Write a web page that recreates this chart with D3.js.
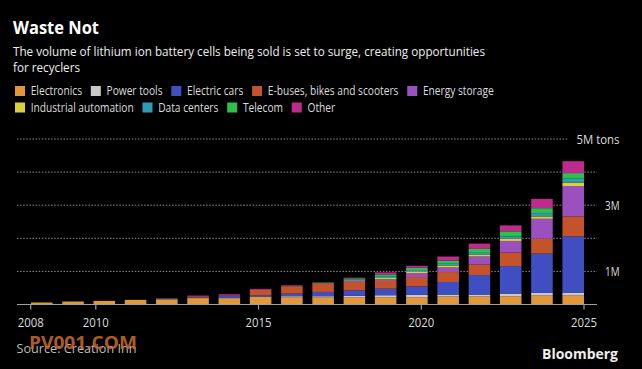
<!DOCTYPE html>
<html>
<head>
<meta charset="utf-8">
<script src="https://cdn.jsdelivr.net/npm/d3@7"></script>
<style>
  html, body { margin: 0; padding: 0; background: #000; }
  svg { display: block; }
  text { font-family: "Open Sans", "Noto Sans", sans-serif; }
</style>
</head>
<body>
<svg id="chart" width="642" height="369"></svg>
<script>
// ---- Data (millions of tons) ----
const years = [2008,2009,2010,2011,2012,2013,2014,2015,2016,2017,2018,2019,2020,2021,2022,2023,2024,2025];
const seriesNames = ["Electronics","Power tools","Electric cars","E-buses, bikes and scooters","Energy storage","Industrial automation","Data centers","Telecom","Other"];
const electronics   = [0.06,0.09,0.11,0.14,0.15,0.19,0.19,0.23,0.22,0.22,0.22,0.22,0.22,0.24,0.24,0.25,0.27,0.27];
const powerTools    = [0,0,0,0,0.01,0.01,0.01,0.01,0.03,0.03,0.04,0.06,0.07,0.06,0.06,0.08,0.08,0.09];
const electricCars  = [0,0,0,0,0.02,0.02,0.06,0.04,0.08,0.13,0.17,0.20,0.26,0.38,0.59,0.83,1.19,1.70];
const eBuses        = [0,0,0,0,0.01,0.03,0.02,0.16,0.22,0.24,0.25,0.23,0.28,0.30,0.32,0.41,0.45,0.60];
const energyStorage = [0,0,0,0,0,0,0,0,0,0.01,0.03,0.05,0.12,0.14,0.24,0.35,0.60,0.92];
const industrial    = [0,0,0,0,0,0,0,0,0,0.01,0.02,0.04,0.05,0.06,0.05,0.07,0.07,0.10];
const dataCenters   = [0,0,0,0,0,0,0,0,0,0,0.02,0.04,0.04,0.05,0.06,0.07,0.10,0.12];
const telecom       = [0,0,0,0,0,0,0,0,0.01,0.02,0.04,0.07,0.07,0.10,0.12,0.15,0.15,0.17];
const other         = [0,0,0,0,0,0.02,0.03,0.03,0.02,0.01,0.02,0.06,0.06,0.12,0.16,0.18,0.28,0.36];
const xTickYears = [2008,2010,2015,2020,2025];
const yTickValues = [1,3,5];
const yTickLabels = ["1M","3M","5M tons"];
const gridValues = [1,2,3,4,5];
const colors = ["#e3973b","#c9c9c9","#3f4fc2","#c4532b","#9b50c0","#dcd032","#2f9bb5","#2ebf4f","#be2b8c"];

const seriesValues = [electronics,powerTools,electricCars,eBuses,energyStorage,industrial,dataCenters,telecom,other];
const table = years.map((yr,i) => {
  const row = {year: yr};
  seriesNames.forEach((n,j) => row[n] = seriesValues[j][i]);
  return row;
});

const svg = d3.select("#chart");
svg.append("rect").attr("width",642).attr("height",369).attr("fill","#000");

function fit(sel, w){ sel.attr("textLength", w).attr("lengthAdjust","spacingAndGlyphs"); return sel; }

// ---- Title / subtitle ----
fit(svg.append("text").attr("x",13).attr("y",34).attr("fill","#fff")
  .attr("font-size",18).attr("font-weight","bold").text("Waste Not"), 86);
const subFont = "'Liberation Sans', Arial, sans-serif";
fit(svg.append("text").attr("x",13).attr("y",55.5).attr("fill","#eee").attr("font-size",12.5)
  .attr("font-family",subFont)
  .text("The volume of lithium ion battery cells being sold is set to surge, creating opportunities"), 472);
fit(svg.append("text").attr("x",13).attr("y",72).attr("fill","#eee").attr("font-size",12.5)
  .attr("font-family",subFont)
  .text("for recyclers"), 67);

// ---- Legend ----
const legendRows = [[0,1,2,3,4],[5,6,7,8]];
const legendY = [91, 107.5];
const lg = svg.append("g");
const natural = seriesNames.map(n => {
  const t = lg.append("text").attr("font-size",12).text(n);
  const w = t.node().getComputedTextLength(); t.remove(); return w;
});
const row1Natural = d3.sum(legendRows[0], i => natural[i]);
const k = 365 / row1Natural;
const gap = 8.8;
legendRows.forEach((row, r) => {
  let x = 15;
  row.forEach(i => {
    lg.append("rect").attr("x",x).attr("y",legendY[r]-5).attr("width",10).attr("height",10).attr("fill",colors[i]);
    const w = natural[i]*k;
    fit(lg.append("text").attr("x",x+15.7).attr("y",legendY[r]+4.3).attr("fill","#ddd").attr("font-size",12).text(seriesNames[i]), w);
    x += 15.7 + w + gap;
  });
});

// ---- Scales ----
const x = d3.scaleBand().domain(years).range([31,584]).paddingInner(0.31).paddingOuter(0);
const xt = d3.scaleLinear().domain([2008,2025]).range([30.7,584]);
const y = d3.scaleLinear().domain([0,5]).range([304.5,139]);

// ---- Gridlines ----
const labelRight = 619.5;
const yl = svg.append("g");
const labelWidths = {};
yTickValues.forEach((v,i) => {
  const t = yl.append("text").attr("x",labelRight).attr("y",y(v)+4.5).attr("text-anchor","end")
    .attr("fill","#ddd").attr("font-size",13).text(yTickLabels[i]);
  const w = yTickLabels[i] === "5M tons" ? 43 : 14.5;
  fit(t, w);
  labelWidths[v] = w;
});
svg.append("g").selectAll("line").data(gridValues).join("line")
  .attr("x1",17).attr("x2",d => labelWidths[d] && labelWidths[d] > 20 ? labelRight - labelWidths[d] - 8 : 597)
  .attr("y1",d => y(d)).attr("y2",d => y(d))
  .attr("stroke","#8f8f8f").attr("stroke-width",1).attr("stroke-dasharray","1.5,1.6");

// ---- Bars ----
const stack = d3.stack().keys(seriesNames)(table);
svg.append("g").selectAll("g").data(stack).join("g")
  .attr("fill",(d,i) => colors[i])
  .selectAll("rect").data(d => d).join("rect")
  .attr("x",d => x(d.data.year)).attr("width",x.bandwidth())
  .attr("y",d => y(d[1])).attr("height",d => Math.max(0, y(d[0]) - y(d[1])));

// ---- X axis ----
svg.append("line").attr("x1",17).attr("x2",597).attr("y1",304.5).attr("y2",304.5)
  .attr("stroke","#a0a0a0").attr("stroke-width",1.2);
const xa = svg.append("g");
xa.selectAll("line").data(xTickYears).join("line")
  .attr("x1",d => xt(d)).attr("x2",d => xt(d)).attr("y1",304.5).attr("y2",309.5)
  .attr("stroke","#a0a0a0").attr("stroke-width",1.2);
xa.selectAll("text").data(xTickYears).join("text")
  .attr("x",d => xt(d)).attr("y",327).attr("text-anchor","middle")
  .attr("fill","#ddd").attr("font-size",13).text(d => d)
  .attr("textLength",26).attr("lengthAdjust","spacingAndGlyphs");

// ---- Footer ----
fit(svg.append("text").attr("x",16.5).attr("y",353).attr("fill","#bbb").attr("font-size",13)
  .text("Source: Creation Inn"), 120);
fit(svg.append("text").attr("x",29).attr("y",349).attr("fill","#c46a2c").attr("fill-opacity",0.9)
  .attr("font-size",18).attr("font-weight","bold").attr("font-family","Liberation Sans, Arial, sans-serif")
  .text("PV001.COM"), 108);
fit(svg.append("text").attr("x",618).attr("y",359).attr("text-anchor","end").attr("fill","#eee")
  .attr("font-size",15).attr("font-weight","bold").text("Bloomberg"), 76);
</script>
</body>
</html>
